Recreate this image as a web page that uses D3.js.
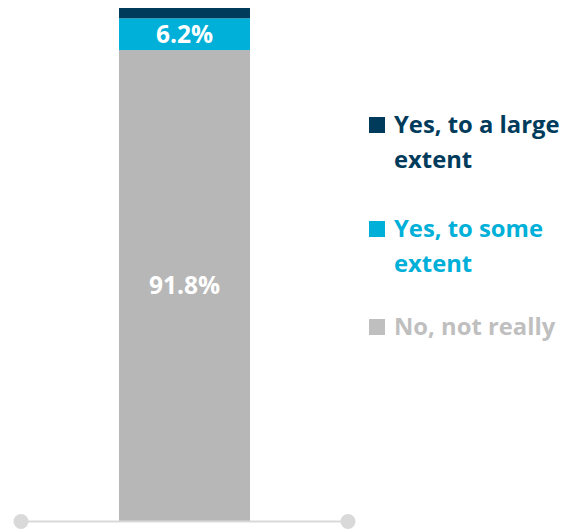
<!DOCTYPE html>
<html><head><meta charset="utf-8">
<script src="https://cdn.jsdelivr.net/npm/d3@7"></script>
<style>body{margin:0;background:#fff}svg{display:block}</style>
</head><body>
<svg id="c" width="567" height="529"></svg>
<script>
const categories = ["All"];
const seriesNames = ["No, not really", "Yes, to some extent", "Yes, to a large extent"];
const seriesValues = [91.8, 6.2, 2.0];
const seriesLabels = ["91.8%", "6.2%", ""];
const seriesColors = ["#b7b7b7", "#00b0d8", "#003b5c"];
const legendColors = ["#bfbfbf", "#00b0d8", "#003b5c"];
const legendOrder = [2, 1, 0];
const legendLines = [["Yes, to a large", "extent"], ["Yes, to some", "extent"], ["No, not really"]];

const svg = d3.select("#c");
const font = "'Open Sans', sans-serif";
const x = d3.scaleBand().domain(categories).range([21, 348]).paddingInner(0).paddingOuter(0.3);
const bw = 131;
const y = d3.scaleLinear().domain([0, 100]).range([521, 8]);

let cum = 0;
const segs = seriesValues.map((v, i) => { const s = {i, y0: cum, y1: cum + v}; cum += v; return s; });
const cx = x(categories[0]) + x.bandwidth() / 2;

svg.selectAll("rect.seg").data(segs).enter().append("rect")
  .attr("x", cx - bw / 2).attr("width", bw)
  .attr("y", d => y(d.y1)).attr("height", d => y(d.y0) - y(d.y1))
  .attr("fill", d => seriesColors[d.i]);

svg.selectAll("text.lbl").data(segs.filter(d => seriesLabels[d.i])).enter().append("text")
  .attr("x", cx).attr("y", d => (y(d.y0) + y(d.y1)) / 2)
  .attr("dy", "0.36em").attr("text-anchor", "middle")
  .attr("font-family", font).attr("font-weight", "bold").attr("font-size", 24.5)
  .attr("fill", "#fff").text(d => seriesLabels[d.i]);

// axis baseline
svg.append("line").attr("x1", 21).attr("x2", 348).attr("y1", 521.5).attr("y2", 521.5)
  .attr("stroke", "#d9d9d9").attr("stroke-width", 2);
svg.selectAll("circle.end").data([21, 348]).enter().append("circle")
  .attr("cx", d => d).attr("cy", 521.5).attr("r", 7.5).attr("fill", "#d9d9d9");

// legend
const legTop = [133, 237, 335];
legendOrder.forEach((si, k) => {
  const g = svg.append("g");
  g.append("rect").attr("x", 369).attr("y", legTop[k] - 16).attr("width", 16).attr("height", 16)
    .attr("fill", legendColors[si]);
  legendLines[k].forEach((ln, j) => {
    g.append("text").attr("x", 394).attr("y", legTop[k] + j * 35)
      .attr("font-family", font).attr("font-weight", "bold").attr("font-size", 23.8)
      .attr("fill", legendColors[si]).text(ln);
  });
});
</script>
</body></html>
